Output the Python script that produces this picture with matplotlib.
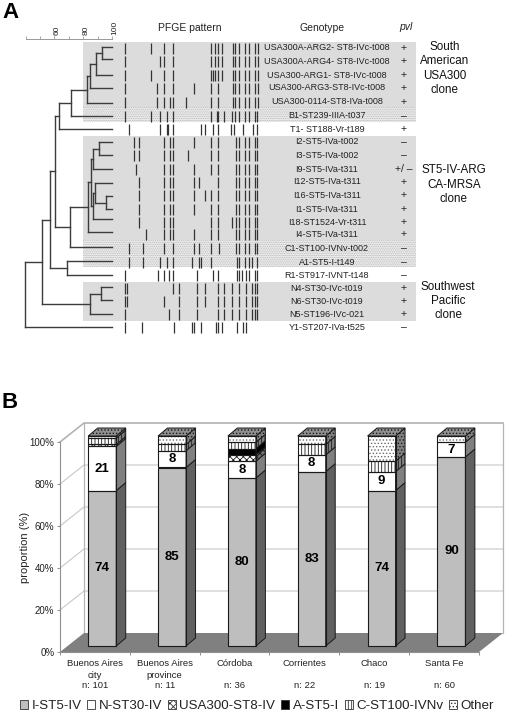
import numpy as np
import matplotlib
matplotlib.use('Agg')
import matplotlib.pyplot as plt
from matplotlib.patches import Patch, Polygon, Rectangle
from matplotlib.transforms import ScaledTranslation

plt.rcParams['font.family'] = ['Liberation Sans', 'DejaVu Sans']
plt.rcParams['hatch.linewidth'] = 0.6

# panel A
genotypes = ['USA300A-ARG2- ST8-IVc-t008', 'USA300A-ARG4- ST8-IVc-t008', 'USA300-ARG1- ST8-IVc-t008',
             'USA300-ARG3-ST8-IVc-t008', 'USA300-0114-ST8-IVa-t008', 'B1-ST239-IIIA-t037',
             'T1- ST188-Vr-t189', 'I2-ST5-IVa-t002', 'I3-ST5-IVa-t002', 'I9-ST5-IVa-t311',
             'I12-ST5-IVa-t311', 'I16-ST5-IVa-t311', 'I1-ST5-IVa-t311', 'I18-ST1524-Vr-t311',
             'I4-ST5-IVa-t311', 'C1-ST100-IVNv-t002', 'A1-ST5-I-t149', 'R1-ST917-IVNT-t148',
             'N4-ST30-IVc-t019', 'N6-ST30-IVc-t019', 'N5-ST196-IVc-021', 'Y1-ST207-IVa-t525']
pvl = ['+', '+', '+', '+', '+', '–', '+', '–', '–', '+/ –', '+', '+', '+', '+', '+', '–', '–', '–',
       '+', '+', '+', '–']
lane_y = [48, 61, 75, 88, 102, 116, 129, 142, 155, 169, 182, 195, 209, 222, 234, 248, 262, 275,
          288, 301, 314, 327]
leaf_y = [47, 59, 75, 88, 103, 116, 129, 142, 155, 169, 183, 196, 209, 219, 232, 247, 261, 275,
          287, 300, 314, 327]

# band positions along the gel, in thirds of a pixel
common_a = [700, 706, 716, 736, 746, 764, 773]
common_b = [708, 716, 734, 746, 764, 772]
common_c = [717, 737, 755, 764, 771]
lane_bands = [
    [376, 453, 493, 518, 633, 646, 654, 666] + common_a,
    [376, 479, 493, 518, 633, 646, 654, 666] + common_a,
    [376, 453, 493, 518, 633, 640, 646, 654, 666] + common_a,
    [376, 471, 493, 518, 583, 633, 654] + common_a,
    [376, 471, 493, 511, 518, 557, 633, 654] + common_a,
    [376, 453, 481, 502, 518, 633, 650, 654, 673, 696, 706, 716, 736, 746, 764, 771],
    [388, 479, 500, 505, 518, 604, 615, 640, 654, 694, 702, 728, 760, 770],
    [401, 416, 493, 511, 518, 583, 633, 654] + common_b,
    [401, 416, 493, 511, 518, 565, 633, 654] + common_b,
    [407, 493, 511, 518, 583, 633, 654] + common_b,
    [417, 493, 511, 518, 583, 597, 654] + common_b,
    [417, 493, 511, 518, 583, 615, 632, 654] + common_b,
    [417, 493, 511, 518, 583, 632, 654] + common_b,
    [417, 493, 511, 518, 632, 654, 696] + common_b,
    [438, 493, 511, 518, 583, 632, 654] + common_b,
    [388, 428, 493, 518, 582, 597, 632, 656] + common_b,
    [388, 428, 481, 501, 518, 576, 597, 603, 632, 710, 717, 734, 746, 757, 770],
    [376, 474, 493, 508, 518, 591, 638, 655, 710, 717, 727, 737, 747, 764, 771],
    [376, 382, 518, 538, 591, 615, 655, 673, 697] + common_c,
    [376, 382, 493, 538, 591, 615, 655, 673, 697] + common_c,
    [376, 508, 538, 591, 655, 673, 697] + common_c,
    [376, 425, 521, 575, 582, 604, 647, 655, 666, 710, 728, 737],
]

# dendrogram: (similarity, child, child), leaves are lane numbers
usa300 = (82.4, (84.7, (88.7, (93.1, 0, 1), 2), 3), 4)
st5 = (70.8, (83.1, (85.2, (86.6, (91.2, 7, 8), 9),
                     (86.8, (88.4, 10, (95.6, 11, 12)), 13)), 14), 15)
upper = (60.4, (63.2, (71.5, usa300, 5), 6), st5)
pacific = (84.5, (92.6, 18, 19), 20)
tree = (39.8, (51.6, (57.2, upper, (68.5, 16, 17)), pacific), 21)

# shaded lane blocks: top, bottom, style
blocks = [(42, 107, 'grey'), (107, 122, 'dots'), (136, 240, 'grey'), (240, 267, 'dots'), (282, 321, 'grey')]

# panel B
places = ['Buenos Aires', 'Buenos Aires', 'Córdoba', 'Corrientes', 'Chaco', 'Santa Fe']
places2 = ['city', 'province', '', '', '', '']
counts = ['n: 101', 'n: 11', 'n: 36', 'n: 22', 'n: 19', 'n: 60']
i_st5 = [74, 85, 80, 83, 74, 90]
n_st30 = [21, 8, 8, 8, 9, 7]
usa300_st8 = [1, 0, 3, 0, 0, 0]
a_st5 = [0, 0, 3, 0, 0, 0]
c_st100 = [3, 3, 3, 5, 5, 0]
other = [1, 4, 3, 4, 12, 3]
series_names = ['I-ST5-IV', 'N-ST30-IV', 'USA300-ST8-IV', 'A-ST5-I', 'C-ST100-IVNv', 'Other']
series = [i_st5, n_st30, usa300_st8, a_st5, c_st100, other]
faces = ['#bebebe', 'white', 'white', 'black', 'white', 'white']
sides = ['#606060', '#808080', '#707070', 'black', '#808080', '#808080']
hatches = [None, None, 'xxxxx', None, '|||||', '.....']
hatch_colors = ['#1a1a1a', '#1a1a1a', '#1a1a1a', '#1a1a1a', '#1a1a1a', '#6e6e6e']

W, H = 506, 714
fig = plt.figure(figsize=(W / 100, H / 100), dpi=100)


def px_axes(x0, y0, x1, y1):
    return fig.add_axes([x0 / W, 1 - y1 / H, (x1 - x0) / W, (y1 - y0) / H])


ax_a = px_axes(0, 0, W, 370)
ax_a.set_xlim(0, W)
ax_a.set_ylim(370, 0)
ax_a.axis('off')

for top, bottom, style in blocks:
    if style == 'grey':
        ax_a.add_patch(Rectangle((83, top), 333, bottom - top, fc='#dcdcdc', ec='none', zorder=0))
    else:
        ax_a.add_patch(Rectangle((83, top), 333, bottom - top, fc='#f0f0f0', ec='#b4b4b4', lw=0,
                                 hatch='.........', zorder=0))

for y, bands in zip(lane_y, lane_bands):
    ax_a.vlines(np.array(bands) / 3, y - 5.5, y + 5.5, color='#333333', lw=0.9, zorder=2)

for y, name, sign in zip(lane_y, genotypes, pvl):
    ax_a.text(327, y, name, fontsize=6.5, color='#222222', ha='center', va='center', zorder=3)
    ax_a.text(403.5, y, sign, fontsize=7.5, color='#222222', ha='center', va='center', zorder=3)

ax_a.text(190, 28, 'PFGE pattern', fontsize=7.5, color='#222222', ha='center', va='center')
ax_a.text(322, 28, 'Genotype', fontsize=7.5, color='#222222', ha='center', va='center')
ax_a.text(406, 27, 'pvl', fontsize=7.5, color='#222222', style='italic', ha='center', va='center')

for x, y, txt in [(445, 47, 'South'), (445, 61, 'American'), (445, 76, 'USA300'), (445, 90, 'clone'),
                  (454, 170, 'ST5-IV-ARG'), (454, 185, 'CA-MRSA'), (454, 199, 'clone'),
                  (448, 287, 'Southwest'), (448, 301, 'Pacific'), (449, 315, 'clone')]:
    ax_a.text(x, y, txt, fontsize=8.4, color='#111111', ha='center', va='center')

ax_a.text(2, 13, 'A', fontsize=16, fontweight='bold', ha='left', va='center')

# dendrogram
ax_tree = px_axes(25.6, 39, 112, 340)
ax_tree.set_xlim(40, 100)
ax_tree.set_ylim(340, 39)
ax_tree.patch.set_visible(False)
for side in ['left', 'right', 'bottom']:
    ax_tree.spines[side].set_visible(False)
ax_tree.spines['top'].set_color('#999999')
ax_tree.spines['top'].set_linewidth(0.7)
ax_tree.xaxis.tick_top()
ax_tree.set_yticks([])
ax_tree.set_xticks([40, 50, 60, 70, 80, 90, 100])
ax_tree.set_xticklabels(['', '', '60', '', '80', '', '100'], rotation=90, fontsize=6, color='#222222')
ax_tree.tick_params(axis='x', length=2.2, width=0.6, color='#999999', pad=1)
for lab in ax_tree.get_xticklabels():
    lab.set_transform(lab.get_transform() + ScaledTranslation(2.5 / 100, 0, fig.dpi_scale_trans))


def draw_node(node):
    # returns the y of the node's stem and its similarity
    if isinstance(node, int):
        return leaf_y[node], 100
    sim, left, right = node
    y1, s1 = draw_node(left)
    y2, s2 = draw_node(right)
    ax_tree.plot([sim, sim], [y1, y2], color='#3c3c3c', lw=1.0, clip_on=False, solid_capstyle='projecting')
    ax_tree.plot([sim, s1], [y1, y1], color='#3c3c3c', lw=1.0, clip_on=False)
    ax_tree.plot([sim, s2], [y2, y2], color='#3c3c3c', lw=1.0, clip_on=False)
    return (y1 + y2) / 2, sim


draw_node(tree)

# stacked 3D bars, front plane of the chart box runs 60..479 and 442..652 px
ax = px_axes(60, 442, 479, 652)
ax.set_xlim(0, 6)
ax.set_ylim(0, 100)
ax.patch.set_visible(False)
for side in ['top', 'right']:
    ax.spines[side].set_visible(False)
for side in ['left', 'bottom']:
    ax.spines[side].set_color('#909090')
    ax.spines[side].set_linewidth(0.8)
ax.set_yticks([0, 20, 40, 60, 80, 100])
ax.set_yticklabels(['0%', '20%', '40%', '60%', '80%', '100%'], fontsize=7, color='#222222')
ax.set_xticks(range(7))
ax.set_xticklabels([])
ax.tick_params(axis='both', length=2.5, width=0.7, color='#909090', pad=1.5)
ax.set_ylabel('proportion (%)', fontsize=8, color='#222222')
ax.yaxis.set_label_coords(-30 / 419, 0.5)

per_x = 419 / 6
per_y = 210 / 100
wall_dx, wall_dy = 24 / per_x, 19 / per_y
shift_x, shift_y = 7.3 / per_x, 6 / per_y
bar_w = 28 / per_x
deep_x, deep_y = 9.5 / per_x, 8 / per_y

# box walls and floor
ax.add_patch(Polygon([(0, 0), (wall_dx, wall_dy), (6 + wall_dx, wall_dy), (6, 0)], fc='#808080', ec='none',
                     clip_on=False, zorder=1))
for tick in [20, 40, 60, 80, 100]:
    ax.plot([0, wall_dx, 6 + wall_dx], [tick, tick + wall_dy, tick + wall_dy], color='#c8c8c8', lw=0.8,
            clip_on=False, zorder=0.5)
ax.plot([wall_dx, wall_dx], [wall_dy, 100 + wall_dy], color='#b4b4b4', lw=0.9, clip_on=False, zorder=0.5)
ax.plot([6 + wall_dx, 6 + wall_dx], [wall_dy, 100 + wall_dy], color='#b4b4b4', lw=0.9, clip_on=False, zorder=0.5)
ax.plot([0, wall_dx, 6 + wall_dx], [100, 100 + wall_dy, 100 + wall_dy], color='#b4b4b4', lw=1.1,
        clip_on=False, zorder=0.6)

centers = np.arange(6) + 0.5 + shift_x
base = np.zeros(6)
for vals, face, side_c, hatch, h_col in zip(series, faces, sides, hatches, hatch_colors):
    vals = np.array(vals, dtype=float)
    for c, b, v in zip(centers, base, vals):
        if v == 0:
            continue
        right = c + bar_w / 2
        # hatch layer first, then a plain outline so the hatch can be lighter than the edge
        ax.bar(c, v, bottom=b + shift_y, width=bar_w, color=face, edgecolor=h_col, linewidth=0,
               hatch=hatch, clip_on=False, zorder=3)
        ax.bar(c, v, bottom=b + shift_y, width=bar_w, fill=False, edgecolor='#1a1a1a', linewidth=0.8,
               clip_on=False, zorder=3.1)
        side_pts = [(right, b + shift_y), (right + deep_x, b + shift_y + deep_y),
                    (right + deep_x, b + v + shift_y + deep_y), (right, b + v + shift_y)]
        ax.add_patch(Polygon(side_pts, fc=side_c, ec='#1a1a1a', lw=0.7, hatch=hatch, clip_on=False, zorder=3))
    base = base + vals

# lid of each bar
for c, b in zip(centers, base):
    left, right = c - bar_w / 2, c + bar_w / 2
    ax.add_patch(Polygon([(left, b + shift_y), (left + deep_x, b + shift_y + deep_y),
                          (right + deep_x, b + shift_y + deep_y), (right, b + shift_y)],
                         fc='#909090', ec='#1a1a1a', lw=0.7, hatch='.....', clip_on=False, zorder=3))

narrow = ['Liberation Sans Narrow', 'Liberation Sans']
for c, a, b in zip(centers, i_st5, n_st30):
    ax.text(c, a / 2 + shift_y, str(a), fontsize=9.5, fontweight='bold', family=narrow, ha='center',
            va='center', zorder=5)
    ax.text(c, a + b / 2 + shift_y, str(b), fontsize=9.5, fontweight='bold', family=narrow, ha='center',
            va='center', zorder=5)

trans = ax.get_xaxis_transform()
for i in range(6):
    for txt, py in [(places[i], 663), (places2[i], 676), (counts[i], 685.5)]:
        ax.text(i + 0.5, -(py - 652) / 210, txt, transform=trans, fontsize=6.8, color='#222222', ha='center',
                va='center', clip_on=False)

fig.text(2 / W, 1 - 402 / H, 'B', fontsize=16, fontweight='bold', ha='left', va='center')

handles = [Patch(facecolor=f, edgecolor='#333333', hatch=h, linewidth=0.6) for f, h in zip(faces, hatches)]
fig.legend(handles, series_names, loc='center', bbox_to_anchor=(257 / W, 1 - 706 / H), ncol=6, frameon=False,
           fontsize=9.6, handlelength=0.6, handleheight=0.6, handletextpad=0.25, columnspacing=0.45,
           borderpad=0, labelcolor='#222222')

fig.savefig('out.png', dpi=100)
